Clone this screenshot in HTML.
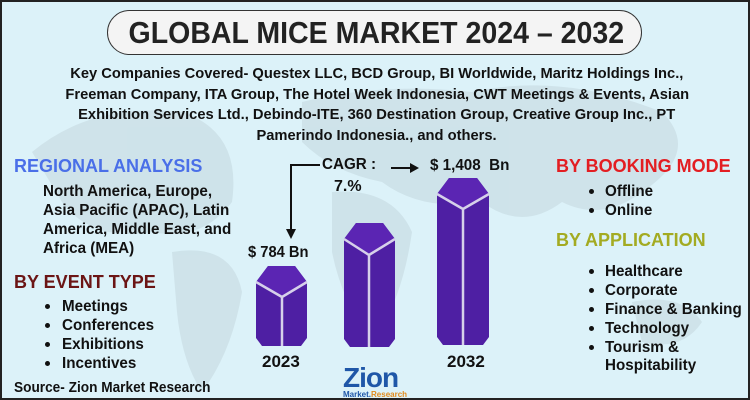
<!DOCTYPE html>
<html><head><meta charset="utf-8"><style>
*{margin:0;padding:0;box-sizing:border-box}
body{width:750px;height:400px;overflow:hidden;background:#fff}
#c{position:absolute;left:0;top:0;width:750px;height:400px;background:#dcf2f9;border:2px solid #222;font-family:"Liberation Sans",sans-serif;font-weight:bold;color:#111;overflow:hidden}
.t{position:absolute;white-space:nowrap}
.h{font-size:18px;line-height:20px;transform-origin:0 50%;transform:scaleX(1)}
.b{font-size:15.5px;line-height:18px;transform-origin:0 50%;transform:scaleX(0.98)}
.dot{position:absolute;width:5px;height:5px;border-radius:50%;background:#111}
.k{position:absolute;left:0;width:750px;text-align:center;font-size:15px;line-height:18px;white-space:nowrap}
.k span{display:inline-block;transform:scaleX(0.98)}
</style></head><body><div id="c">
<svg style="position:absolute;left:0;top:0" width="750" height="400">
<g fill="#c9dde4" opacity="0.7">
<path d="M30 150 Q90 100 180 110 Q240 130 230 200 Q200 240 150 230 Q90 240 60 200 Z"/>
<path d="M170 250 Q230 240 240 290 Q230 350 200 390 Q180 360 175 310 Z"/>
<path d="M300 100 Q380 80 470 90 Q560 70 660 110 Q700 150 640 190 Q600 220 560 200 Q520 230 480 200 Q420 210 380 180 Q330 170 300 140 Z"/>
<path d="M330 190 Q390 185 410 230 Q400 300 370 340 Q340 300 330 250 Z"/>
<path d="M630 300 Q680 290 700 320 Q680 350 640 340 Z"/>
</g>
</svg>
<div style="position:absolute;left:105px;top:8px;width:535px;height:45px;border:1.5px solid #333;border-radius:24px;background:#f4f4f4"></div>
<div class="t" style="left:105px;top:13px;width:535px;text-align:center;font-size:31px;line-height:36px;color:#222"><span style="display:inline-block;transform:scaleX(0.92)">GLOBAL MICE MARKET 2024 – 2032</span></div>
<div class="k" style="top:63px"><span>Key Companies Covered- Questex LLC, BCD Group, BI Worldwide, Maritz Holdings Inc.,</span></div>
<div class="k" style="top:84px"><span>Freeman Company, ITA Group, The Hotel Week Indonesia, CWT Meetings &amp; Events, Asian</span></div>
<div class="k" style="top:104px"><span>Exhibition Services Ltd., Debindo-ITE, 360 Destination Group, Creative Group Inc., PT</span></div>
<div class="k" style="top:125px"><span>Pamerindo Indonesia., and others.</span></div>

<div class="t h" style="left:12px;top:154px;color:#4a6fe8">REGIONAL ANALYSIS</div>
<div class="t b" style="left:41px;top:181px">North America, Europe,</div>
<div class="t b" style="left:41px;top:200px">Asia Pacific (APAC), Latin</div>
<div class="t b" style="left:41px;top:219px">America, Middle East, and</div>
<div class="t b" style="left:41px;top:238px">Africa (MEA)</div>
<div class="t h" style="left:12px;top:270px;color:#6b1515">BY EVENT TYPE</div>
<div class="dot" style="left:43px;top:302px"></div><div class="t b" style="left:60px;top:296px">Meetings</div>
<div class="dot" style="left:43px;top:321px"></div><div class="t b" style="left:60px;top:315px">Conferences</div>
<div class="dot" style="left:43px;top:340px"></div><div class="t b" style="left:60px;top:334px">Exhibitions</div>
<div class="dot" style="left:43px;top:359px"></div><div class="t b" style="left:60px;top:353px">Incentives</div>
<div class="t b" style="left:12px;top:377px;font-size:15px;transform:scaleX(0.91)">Source- Zion Market Research</div>

<div class="t h" style="left:554px;top:154px;color:#e31e22">BY BOOKING MODE</div>
<div class="dot" style="left:587px;top:187px"></div><div class="t b" style="left:603px;top:181px">Offline</div>
<div class="dot" style="left:587px;top:206px"></div><div class="t b" style="left:603px;top:200px">Online</div>
<div class="t h" style="left:554px;top:228px;color:#a3ab22">BY APPLICATION</div>
<div class="dot" style="left:587px;top:267px"></div><div class="t b" style="left:603px;top:261px">Healthcare</div>
<div class="dot" style="left:587px;top:286px"></div><div class="t b" style="left:603px;top:280px">Corporate</div>
<div class="dot" style="left:587px;top:305px"></div><div class="t b" style="left:603px;top:299px">Finance &amp; Banking</div>
<div class="dot" style="left:587px;top:324px"></div><div class="t b" style="left:603px;top:318px">Technology</div>
<div class="dot" style="left:587px;top:343px"></div><div class="t b" style="left:603px;top:337px">Tourism &amp;</div>
<div class="t b" style="left:603px;top:355px">Hospitability</div>

<svg style="position:absolute;left:0;top:0" width="750" height="400">
<g fill="#4e1fa3" stroke="none">
<path d="M254 280 L266 264 L293 264 L305 280 L305 336 L299 344 L260 344 L254 336 Z"/>
<path d="M342 237 L354 221 L381 221 L393 237 L393 337 L387 345 L348 345 L342 337 Z"/>
<path d="M435 192 L447 176 L475 176 L487 192 L487 335 L481 343 L441 343 L435 335 Z"/>
</g>
<g fill="#5b25b3">
<path d="M254 280 L266 264 L293 264 L305 280 L280 295 Z"/>
<path d="M342 237 L354 221 L381 221 L393 237 L367 253 Z"/>
<path d="M435 192 L447 176 L475 176 L487 192 L461 207 Z"/>
</g>
<g stroke="#d6d0ea" stroke-width="2.5" fill="none">
<path d="M254 280 L280 295 L305 280 M280 295 L280 344"/>
<path d="M342 237 L367 253 L393 237 M367 253 L367 345"/>
<path d="M435 192 L461 207 L487 192 M461 207 L461 343"/>
</g>
<g stroke="#111" stroke-width="2" fill="none">
<path d="M318 163 L289 163 L289 228"/>
<path d="M389 166 L410 166"/>
</g>
<path d="M284 227 L289 237 L294 227 Z" fill="#111"/>
<path d="M408 161 L417 166 L408 171 Z" fill="#111"/>
</svg>
<div class="t" style="left:320px;top:153px;font-size:16px;line-height:20px;transform:scaleX(0.95);transform-origin:0 50%">CAGR :</div>
<div class="t" style="left:332px;top:175px;font-size:16px;line-height:20px">7.%</div>
<div class="t" style="left:428px;top:154px;font-size:16px;line-height:20px;transform:scaleX(0.95);transform-origin:0 50%">$ 1,408&nbsp; Bn</div>
<div class="t" style="left:246px;top:241px;font-size:16px;line-height:20px;transform:scaleX(0.92);transform-origin:0 50%">$ 784 Bn</div>
<div class="t" style="left:260px;top:350px;font-size:17px;line-height:20px">2023</div>
<div class="t" style="left:445px;top:350px;font-size:17px;line-height:20px">2032</div>
<div class="t" style="left:341px;top:362px;font-size:28px;line-height:28px;color:#1f57a8;letter-spacing:-1px">Zion</div>
<div class="t" style="left:341px;top:388px;font-size:8px;line-height:9px;color:#1f57a8;text-decoration:underline">Market.<span style="color:#e08a1c">Research</span></div>
</div></body></html>
